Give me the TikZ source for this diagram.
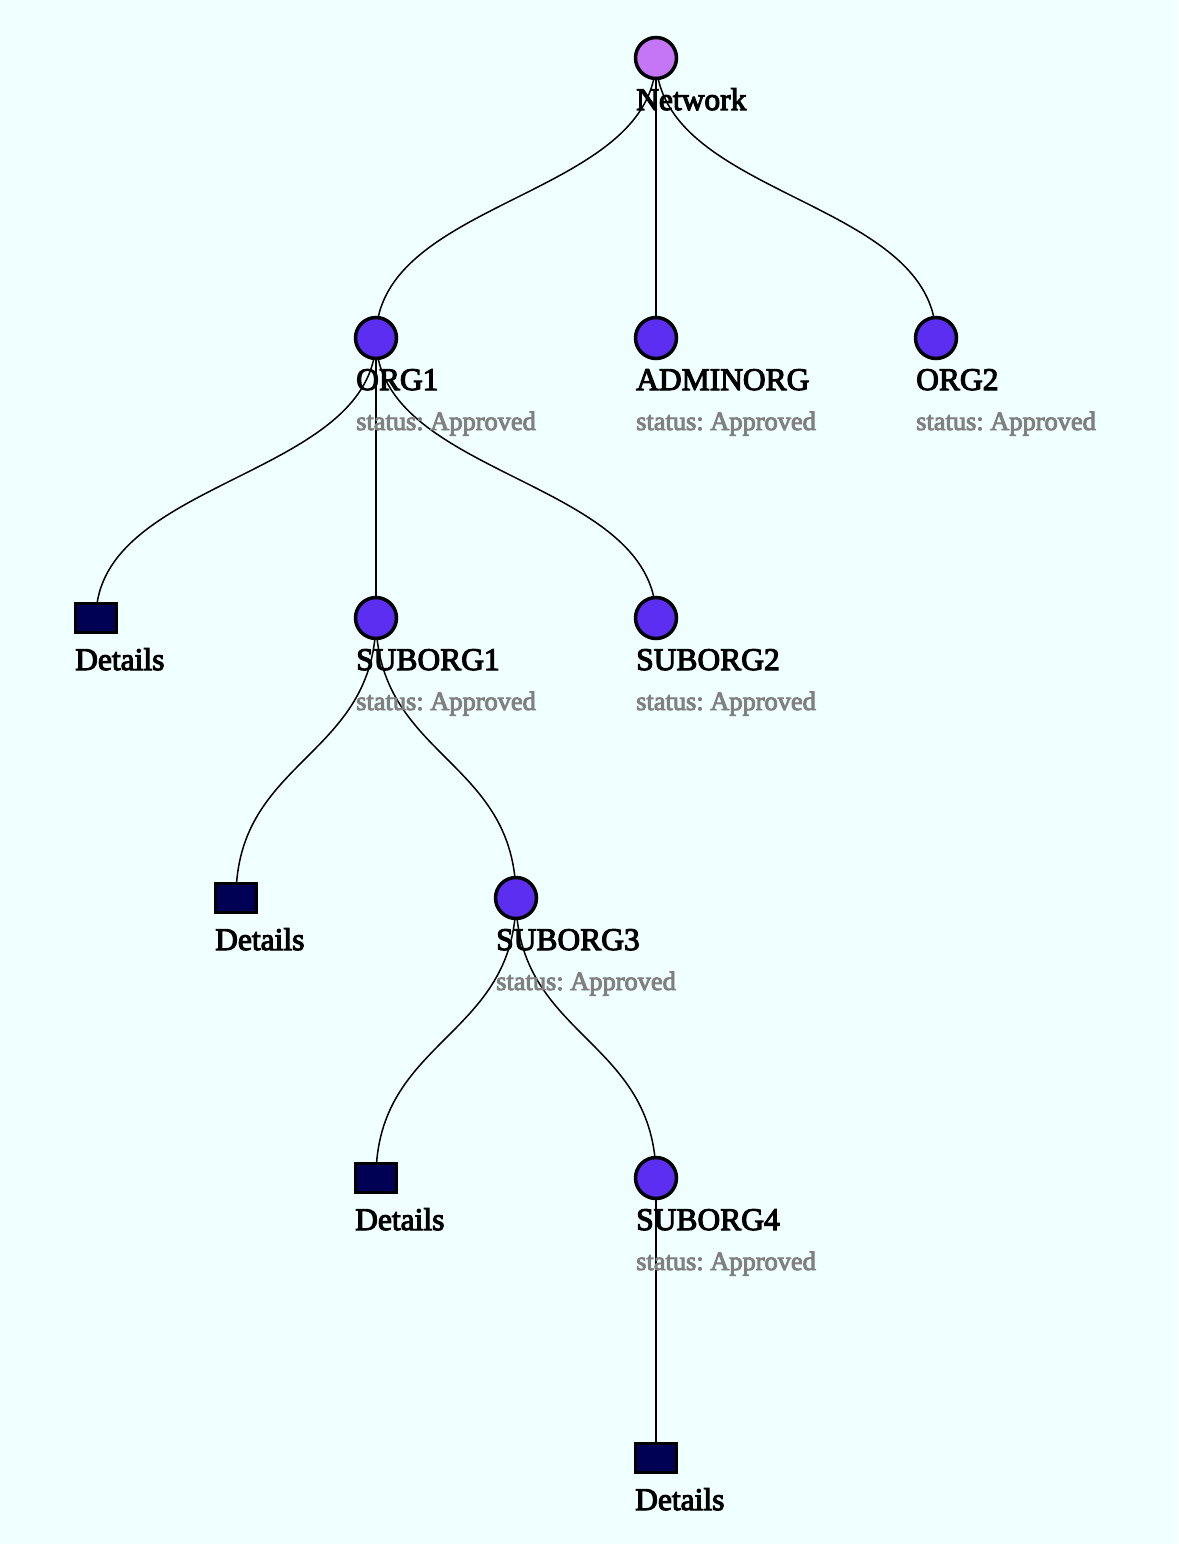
\documentclass[tikz,border=0pt]{standalone}
\usepackage{fontspec}
\setmainfont{Liberation Serif}
\newfontfamily\lblfont{Liberation Serif}[FakeBold=3.5]
\frenchspacing
\usetikzlibrary{calc,backgrounds}
\definecolor{bgcol}{RGB}{240,255,255}
\definecolor{rootcol}{RGB}{196,118,246}
\definecolor{orgcol}{RGB}{92,46,242}
\definecolor{detcol}{RGB}{0,0,84}
\tikzset{
  root/.style={circle, draw=black, line width=3.5pt, fill=rootcol, minimum size=41pt, inner sep=0pt},
  org/.style={circle, draw=black, line width=3.5pt, fill=orgcol, minimum size=41pt, inner sep=0pt},
  details/.style={rectangle, draw=black, line width=3.5pt, fill=detcol, minimum width=41pt, minimum height=29pt, inner sep=0pt},
  orgname/.style={anchor=base west, inner sep=0pt, font=\lblfont\fontsize{31.5}{36}\selectfont},
  status/.style={anchor=base west, inner sep=0pt, text=gray, font=\lblfont\fontsize{26.4}{30}\selectfont},
  link/.style={line width=1.5pt, black}
}
\begin{document}
\begin{tikzpicture}[x=1pt, y=-1pt]
\useasboundingbox (0,0) rectangle (1178,1544);
% Racine
\node[root] (network) at (656,58) {};
% Organisations
\node[org] (org1) at (376,338) {};
\node[org] (adminorg) at (656,338) {};
\node[org] (org2) at (936,338) {};
\node[org] (suborg1) at (376,618) {};
\node[org] (suborg2) at (656,618) {};
\node[org] (suborg3) at (516,898) {};
\node[org] (suborg4) at (656,1178) {};
% Details
\node[details] (det1) at (96,618) {};
\node[details] (det2) at (236,898) {};
\node[details] (det3) at (376,1178) {};
\node[details] (det4) at (656,1458) {};
% Noms
\node[orgname] (networklbl) at ($(network.center)+(-20,52)$) {Network};
\foreach \n/\t in {org1/ORG1, adminorg/ADMINORG, org2/ORG2, suborg1/SUBORG1, suborg2/SUBORG2, suborg3/SUBORG3, suborg4/SUBORG4}{
  \node[orgname] (\n lbl) at ($(\n.center)+(-20,52)$) {\t};
  \node[status] (\n st) at ($(\n.center)+(-20,92)$) {status: Approved};
}
\foreach \n in {det1, det2, det3, det4}
  \node[orgname] (\n lbl) at ($(\n.center)+(-21,52)$) {Details};
% Fond et liens
\begin{pgfonlayer}{background}
\fill[bgcol] (0,0) rectangle (1178,1544);
\foreach \p/\c in {network/org1, network/adminorg, network/org2, org1/det1, org1/suborg1, org1/suborg2, suborg1/det2, suborg1/suborg3, suborg3/det3, suborg3/suborg4, suborg4/det4}{
  \coordinate (mid) at ($(\p.center)!0.5!(\c.center)$);
  \draw[link] (\p.center) .. controls (\p |- mid) and (\c |- mid) .. (\c.center);
}
\end{pgfonlayer}
\end{tikzpicture}
\end{document}
